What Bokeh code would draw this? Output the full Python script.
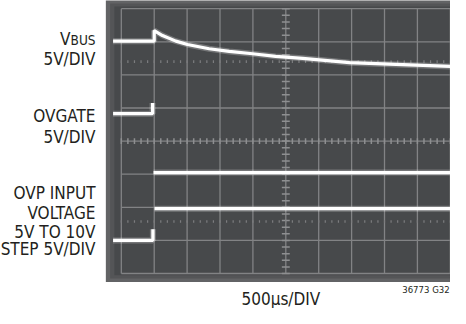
import numpy as np
from bokeh.plotting import figure
from bokeh.models import Range1d
from bokeh.core.properties import value
from bokeh.embed import file_html
from bokeh.resources import INLINE

# ---- data (screen divisions: x = 500us/div, y = 5V/div) ----
vbus_x = [-0.25, 1.0, 1.0, 1.25, 1.66, 2.01, 2.67, 3.28, 3.99, 4.69, 5.51, 6.94, 8.55, 10.16]
vbus_y = [7.02, 7.02, 7.34, 7.19, 7.02, 6.92, 6.79, 6.71, 6.64, 6.56, 6.50, 6.37, 6.31, 6.25]

ovgate_pre_x = [-0.25, 0.95, 0.95]
ovgate_pre_y = [4.83, 4.83, 5.15]
ovgate_post_x = [0.98, 10.16]
ovgate_post_y = [3.05, 3.05]

ovp_pre_x = [-0.25, 0.96, 0.96]
ovp_pre_y = [1.0, 1.0, 1.34]
ovp_post_x = [1.01, 10.16]
ovp_post_y = [1.96, 1.96]

ref_rows = [6.40, 1.57]

left_labels = ["5V/DIV", "OVGATE", "5V/DIV", "OVP INPUT", "VOLTAGE", "5V TO 10V", "STEP 5V/DIV"]
x_label = "500\u03bcs/DIV"
fig_id = "36773 G32"

FONT = "DejaVu Sans Condensed"

p = figure(width=450, height=308, x_range=Range1d(-3.672, 10.006), y_range=Range1d(-1.057, 8.248),
           output_backend="svg", toolbar_location=None, min_border=0,
           x_axis_location=None, y_axis_location=None, outline_line_color=None,
           background_fill_color="white", border_fill_color="white")
p.grid.visible = False

# scope screen
p.quad(left=[-0.47], right=[10.5], bottom=[-0.26], top=[8.4], fill_color="#626365", line_color=None)
p.quad(left=[-0.34], right=[10.5], bottom=[-0.15], top=[8.16], fill_color="#545557", line_color=None)
p.quad(left=[-0.21], right=[10.5], bottom=[-0.05], top=[8.07], fill_color="#47494b", line_color=None)

# graticule
gcol = "#828385"
gx = list(range(0, 11))
gy = list(range(0, 9))
p.segment(x0=gx, y0=[0]*len(gx), x1=gx, y1=[8]*len(gx), line_color=gcol, line_width=1.3)
p.segment(x0=[0]*len(gy), y0=gy, x1=[10]*len(gy), y1=gy, line_color=gcol, line_width=1.3)
ty = np.arange(0, 8.01, 0.2)
p.segment(x0=[4.88]*len(ty), y0=ty, x1=[5.12]*len(ty), y1=ty, line_color="#8e8f91", line_width=1.5)
tx = np.arange(0, 10.01, 0.2)
p.segment(x0=tx, y0=[3.91]*len(tx), x1=tx, y1=[4.09]*len(tx), line_color="#8e8f91", line_width=1.5)
for r in ref_rows:
    p.segment(x0=tx, y0=[r-0.04]*len(tx), x1=tx, y1=[r+0.04]*len(tx), line_color="#7c7d7f", line_width=1.2)

# traces
for xs, ys in [(vbus_x, vbus_y), (ovgate_pre_x, ovgate_pre_y), (ovgate_post_x, ovgate_post_y),
               (ovp_pre_x, ovp_pre_y), (ovp_post_x, ovp_post_y)]:
    p.line(xs, ys, line_color="white", line_width=6, line_alpha=0.25)
    p.line(xs, ys, line_color="white", line_width=3.2)

# labels
tc = "#231f20"
p.text(x=[-0.784]*len(left_labels), y=[6.47, 4.76, 4.11, 2.42, 1.82, 1.24, 0.755], text=left_labels,
       text_align="right", text_baseline="alphabetic", text_font=value(FONT),
       text_font_size="17px", text_color=tc)
p.text(x=[-0.784], y=[7.04], text=["BUS"], text_align="right", text_baseline="alphabetic",
       text_font=value(FONT), text_font_size="13.5px", text_color=tc)
p.text(x=[-1.544], y=[7.07], text=["V"], text_align="right", text_baseline="alphabetic",
       text_font=value(FONT), text_font_size="17px", text_color=tc)
p.text(x=[4.85], y=[-0.77], text=[x_label], text_align="center", text_baseline="alphabetic",
       text_font=value(FONT), text_font_size="17px", text_color=tc)
p.text(x=[9.98], y=[-0.483], text=[fig_id], text_align="right", text_baseline="alphabetic",
       text_font=value(FONT), text_font_size="9.5px", text_color=tc)

open("out.html", "w").write(file_html(p, INLINE))
